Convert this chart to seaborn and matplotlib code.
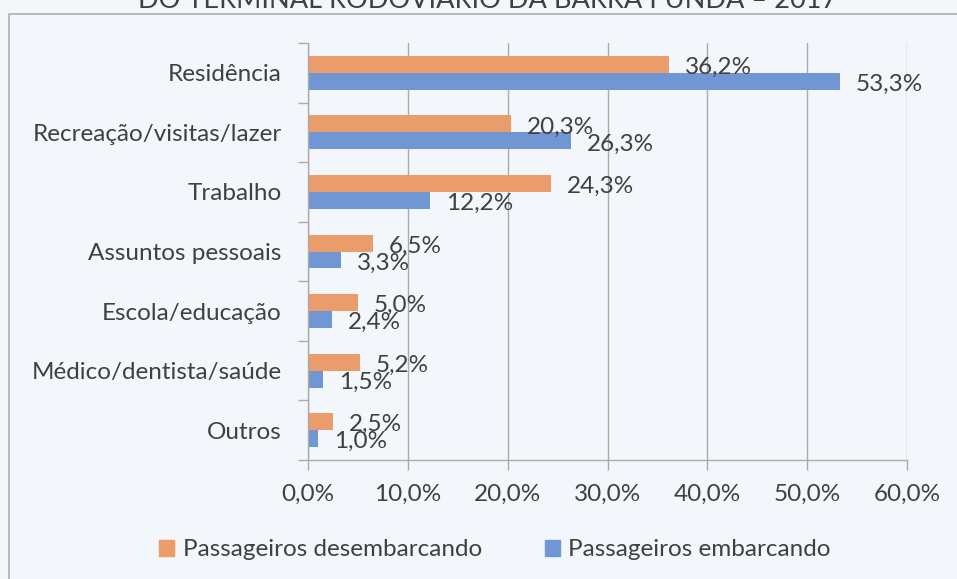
import matplotlib
matplotlib.use("Agg")
import matplotlib.pyplot as plt
from matplotlib.patches import Rectangle
import seaborn as sns
import pandas as pd

categories = ["Residência", "Recreação/visitas/lazer", "Trabalho", "Assuntos pessoais",
              "Escola/educação", "Médico/dentista/saúde", "Outros"]
desembarcando = [36.2, 20.3, 24.3, 6.5, 5.0, 5.2, 2.5]
embarcando = [53.3, 26.3, 12.2, 3.3, 2.4, 1.5, 1.0]
series_names = ["Passageiros desembarcando", "Passageiros embarcando"]
x_ticks = [0, 10, 20, 30, 40, 50, 60]
title = "DO TERMINAL RODOVIÁRIO DA BARRA FUNDA – 2017"

colors = ["#EA9C6B", "#7096D3"]
bg = "#F3F6FB"
text_color = "#404040"
grid_color = "#A9ABAE"
fs = 17.5

df = pd.DataFrame({
    "categoria": categories * 2,
    "valor": desembarcando + embarcando,
    "serie": [series_names[0]] * len(categories) + [series_names[1]] * len(categories),
})

sns.set_theme(style="white")
plt.rcParams["font.family"] = ["Lato", "DejaVu Sans"]

W, H = 957, 579
fig = plt.figure(figsize=(W / 100, H / 100), dpi=100, facecolor=bg)
ax = fig.add_axes([308 / W, 1 - 460 / H, (907 - 308) / W, (460 - 43) / H])
ax.set_facecolor(bg)

sns.barplot(data=df, y="categoria", x="valor", hue="serie", order=categories,
            hue_order=series_names, palette=colors, orient="h", width=0.57,
            saturation=1, ax=ax, legend=False, edgecolor="none")

# value labels right of each bar
for container in ax.containers:
    for bar in container:
        v = bar.get_width()
        ax.annotate(f"{v:.1f}%".replace(".", ","),
                    xy=(v, bar.get_y() + bar.get_height() / 2),
                    xytext=(16, -3), textcoords="offset pixels",
                    ha="left", va="center", fontsize=fs, color=text_color)

ax.set_xlim(0, 60)
ax.set_ylim(len(categories) - 0.5, -0.5)
ax.set_xticks(x_ticks)
ax.set_xticklabels([f"{t:.1f}%".replace(".", ",") for t in x_ticks])
ax.set_xlabel("")
ax.set_ylabel("")
ax.xaxis.grid(True, color=grid_color, linewidth=1)
ax.set_axisbelow(True)

# category ticks sit on band boundaries
ax.set_yticks(range(len(categories)))
ax.set_yticklabels(categories)
ax.set_yticks([i - 0.5 for i in range(len(categories) + 1)], minor=True)
ax.tick_params(axis="y", which="major", length=0, pad=19, labelsize=fs, labelcolor=text_color)
ax.tick_params(axis="y", which="minor", length=7, width=1, color=grid_color, left=True)
ax.tick_params(axis="x", which="major", length=7, width=1, color=grid_color,
               bottom=True, pad=10, labelsize=fs, labelcolor=text_color)

for s in ["top", "right"]:
    ax.spines[s].set_visible(False)
for s in ["left", "bottom"]:
    ax.spines[s].set_color(grid_color)
    ax.spines[s].set_linewidth(1)

# legend below the plot
handles = [Rectangle((0, 0), 1, 1, color=c) for c in colors]
fig.legend(handles, series_names, loc="center", bbox_to_anchor=(495 / W, 1 - 550 / H),
           ncol=2, frameon=False, fontsize=fs, handlelength=0.6, handleheight=0.6,
           handletextpad=0.35, columnspacing=2.6, labelcolor=text_color)

# chart area frame
fig.patches.append(Rectangle((8.5 / W, -0.1), 1.2, 1.1 - 14.5 / H, transform=fig.transFigure,
                             fill=False, edgecolor="#B0B0B0", linewidth=1.2))

fig.text(488 / W, 1 - 8 / H, title, ha="center", va="baseline", fontsize=19.5, color=text_color)

fig.savefig("out.png", dpi=100, facecolor=bg)
